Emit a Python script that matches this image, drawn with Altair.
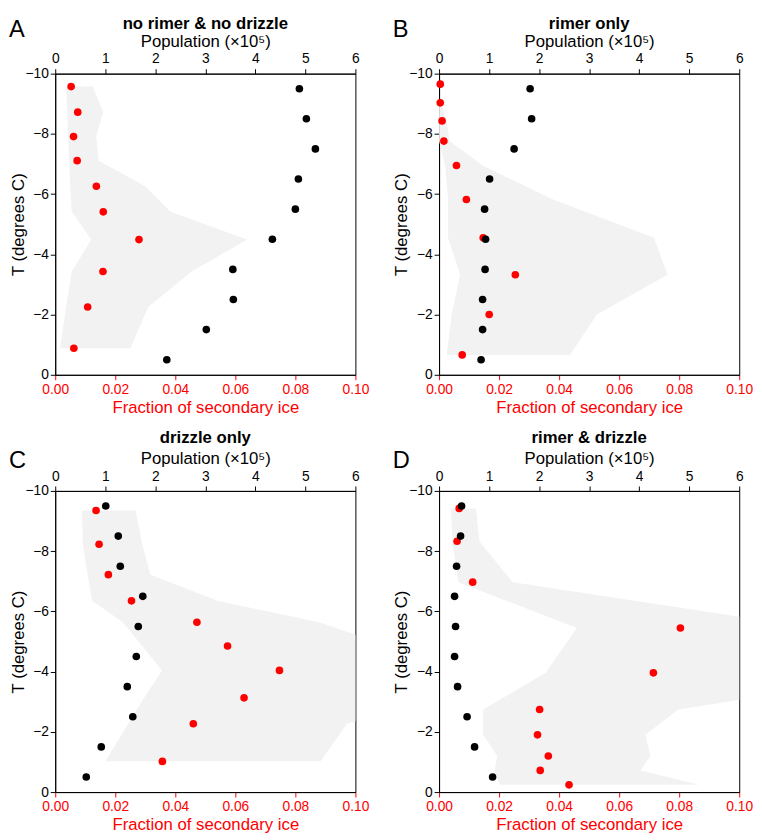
import altair as alt
import pandas as pd

FONT = "Liberation Sans"
POP_T = [-9.5, -8.5, -7.5, -6.5, -5.5, -4.5, -3.5, -2.5, -1.5, -0.5]

# ---------- Panel A: no rimer & no drizzle ----------
a_red_T = [-9.57, -8.72, -7.91, -7.11, -6.26, -5.41, -4.49, -3.43, -2.25, -0.88]
a_red_f = [0.0053, 0.0075, 0.0061, 0.0073, 0.0137, 0.0160, 0.0279, 0.0159, 0.0108, 0.0062]
a_band_T = a_red_T
a_lo = [0.0036, 0.0040, 0.0043, 0.0046, 0.0050, 0.0055, 0.0120, 0.0055, 0.0036, 0.0016]
a_hi = [0.0125, 0.0160, 0.0136, 0.0145, 0.0300, 0.0384, 0.0639, 0.0454, 0.0310, 0.0250]
a_pop = [4.88, 5.02, 5.20, 4.86, 4.80, 4.34, 3.55, 3.56, 3.02, 2.23]

# ---------- Panel B: rimer only ----------
b_red_T = [-9.65, -9.03, -8.43, -7.76, -6.95, -5.82, -4.55, -3.32, -2.00, -0.66]
b_red_f = [0.0004, 0.0004, 0.0010, 0.0016, 0.0058, 0.0091, 0.0147, 0.0254, 0.0167, 0.0077]
b_band_T = [-9.03, -8.43, -7.76, -6.95, -5.82, -4.55, -3.32, -2.00, -0.66]
b_lo = [0.0000, 0.0000, 0.0000, 0.0020, 0.0030, 0.0030, 0.0070, 0.0042, 0.0025]
b_hi = [0.0006, 0.0025, 0.0035, 0.0145, 0.0380, 0.0716, 0.0761, 0.0526, 0.0436]
b_pop = [1.82, 1.85, 1.50, 1.01, 0.91, 0.93, 0.92, 0.87, 0.87, 0.84]

# ---------- Panel C: drizzle only ----------
c_red_T = [-9.35, -8.23, -7.22, -6.35, -5.64, -4.85, -4.04, -3.13, -2.27, -1.02]
c_red_f = [0.0136, 0.0146, 0.0177, 0.0254, 0.0472, 0.0574, 0.0747, 0.0629, 0.0460, 0.0357]
c_band_T = c_red_T
c_lo = [0.0089, 0.0092, 0.0108, 0.0123, 0.0225, 0.0290, 0.0356, 0.0296, 0.0243, 0.0167]
c_hi = [0.0268, 0.0290, 0.0317, 0.0541, 0.0879, 0.1107, 0.1300, 0.1250, 0.0972, 0.0884]
c_pop = [1.01, 1.26, 1.30, 1.75, 1.66, 1.62, 1.44, 1.55, 0.92, 0.62]

# ---------- Panel D: rimer & drizzle ----------
d_red_T = [-9.42, -8.33, -6.97, -5.45, -3.96, -2.74, -1.90, -1.20, -0.72, -0.24]
d_red_f = [0.0067, 0.0060, 0.0112, 0.0804, 0.0714, 0.0335, 0.0328, 0.0364, 0.0337, 0.0433]
d_band_T = d_red_T
d_lo = [0.0040, 0.0044, 0.0064, 0.0459, 0.0355, 0.0147, 0.0147, 0.0194, 0.0185, 0.0202]
d_hi = [0.0123, 0.0134, 0.0245, 0.1250, 0.1560, 0.0797, 0.0687, 0.0704, 0.0671, 0.0866]
d_pop = [0.45, 0.43, 0.35, 0.31, 0.33, 0.31, 0.37, 0.56, 0.71, 1.07]

W, H = 305, 306


def panel(letter, title, red_T, red_f, band_T, lo, hi, pop, top_row):
    red_df = pd.DataFrame({"T": red_T, "frac": red_f})
    band_df = pd.DataFrame({"T": band_T, "lo": lo, "hi": hi}).sort_values("T")
    pop_df = pd.DataFrame({"T": POP_T, "pop": pop})

    yscale = alt.Scale(domain=[-10, 0], reverse=True, nice=False)
    yaxis = alt.Axis(values=[-10, -8, -6, -4, -2, 0], title="T (degrees C)",
                     labelPadding=2, titlePadding=-2,
                     labelExpr="replace(format(datum.value, 'd'), '-', '\u2212')")
    fscale = alt.Scale(domain=[0, 0.1], nice=False)

    band = alt.Chart(band_df).mark_area(
        color="#f2f2f2", orient="horizontal", clip=True, opacity=1
    ).encode(
        x=alt.X("lo:Q", scale=fscale, axis=None),
        x2="hi:Q",
        y=alt.Y("T:Q", scale=yscale, axis=yaxis),
    )
    red = alt.Chart(red_df).mark_circle(color="#ff0000", size=60, opacity=1).encode(
        x=alt.X("frac:Q", scale=fscale,
                axis=alt.Axis(orient="bottom", values=[0, 0.02, 0.04, 0.06, 0.08, 0.1],
                              format=".2f", labelColor="#ff0000", titleColor="#ff0000",
                              tickColor="#ff0000", title="Fraction of secondary ice",
                              labelFlush=False, titlePadding=3)),
        y=alt.Y("T:Q", scale=yscale, axis=yaxis),
    )
    black = alt.Chart(pop_df).mark_circle(color="#000000", size=60, opacity=1).encode(
        x=alt.X("pop:Q", scale=alt.Scale(domain=[0, 6], nice=False),
                axis=alt.Axis(orient="top", values=[0, 1, 2, 3, 4, 5, 6],
                              title="Population (×10⁵)", labelFlush=False,
                              titlePadding=2)),
        y=alt.Y("T:Q", scale=yscale, axis=yaxis),
    )
    ty = -45 if top_row else -49
    ly = -37 if top_row else -23
    txt_df = pd.DataFrame({"letter": [letter], "title": [title]})
    letter_t = alt.Chart(txt_df).mark_text(
        font=FONT, fontSize=24, align="left", baseline="alphabetic", color="black"
    ).encode(x=alt.value(-47), y=alt.value(ly), text="letter:N")
    title_t = alt.Chart(txt_df).mark_text(
        font=FONT, fontSize=17, fontWeight="bold", align="center",
        baseline="alphabetic", color="black"
    ).encode(x=alt.value(W / 2), y=alt.value(ty), text="title:N")

    return alt.layer(band, red, black, letter_t, title_t).resolve_scale(
        x="independent"
    ).properties(width=W, height=H)


A = panel("A", "no rimer & no drizzle", a_red_T, a_red_f, a_band_T, a_lo, a_hi, a_pop, True)
B = panel("B", "rimer only", b_red_T, b_red_f, b_band_T, b_lo, b_hi, b_pop, True)
C = panel("C", "drizzle only", c_red_T, c_red_f, c_band_T, c_lo, c_hi, c_pop, False)
D = panel("D", "rimer & drizzle", d_red_T, d_red_f, d_band_T, d_lo, d_hi, d_pop, False)

chart = alt.vconcat(
    alt.hconcat(A, B, spacing=22),
    alt.hconcat(C, D, spacing=22),
    spacing=12,
).properties(
    padding=0
).configure_view(
    stroke="black", strokeWidth=1
).configure_axis(
    grid=False, domainColor="black", tickColor="black", labelColor="black",
    titleColor="black", labelFont=FONT, titleFont=FONT, labelFontSize=14,
    titleFontSize=17, titleFontWeight="normal", tickSize=5, labelPadding=3,
    domainWidth=1, tickWidth=1,
)

chart.save("out.html", embed_options={"renderer": "svg", "actions": False})
